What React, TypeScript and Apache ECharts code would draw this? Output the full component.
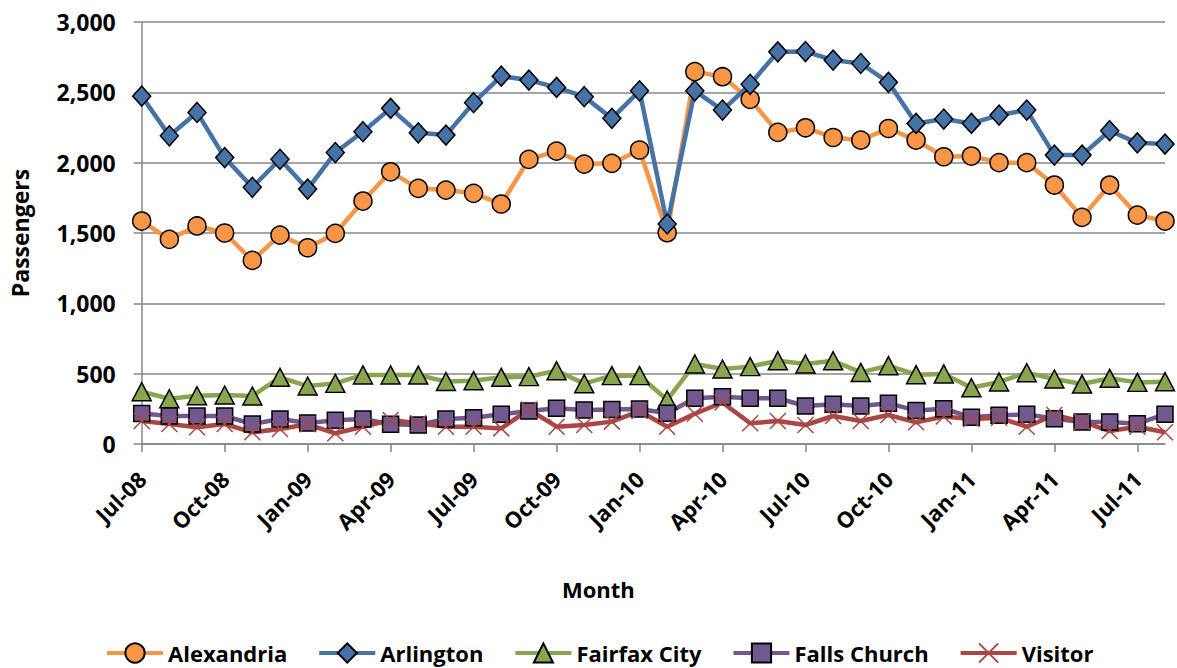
import React, { useEffect, useRef } from "react";
import * as echarts from "echarts";

const months = [
  "Jul-08", "Aug-08", "Sep-08", "Oct-08", "Nov-08", "Dec-08",
  "Jan-09", "Feb-09", "Mar-09", "Apr-09", "May-09", "Jun-09",
  "Jul-09", "Aug-09", "Sep-09", "Oct-09", "Nov-09", "Dec-09",
  "Jan-10", "Feb-10", "Mar-10", "Apr-10", "May-10", "Jun-10",
  "Jul-10", "Aug-10", "Sep-10", "Oct-10", "Nov-10", "Dec-10",
  "Jan-11", "Feb-11", "Mar-11", "Apr-11", "May-11", "Jun-11",
  "Jul-11", "Aug-11",
];

const alexandria = [1585, 1455, 1550, 1500, 1305, 1485, 1395, 1497, 1727, 1935, 1817, 1805, 1782, 1706, 2023, 2082, 1990, 1995, 2090, 1502, 2647, 2611, 2450, 2215, 2248, 2179, 2160, 2243, 2160, 2042, 2047, 2000, 2000, 1841, 1611, 1841, 1627, 1585];
const arlington = [2473, 2191, 2357, 2036, 1825, 2024, 1812, 2072, 2220, 2386, 2212, 2196, 2426, 2615, 2587, 2535, 2469, 2315, 2511, 1564, 2511, 2374, 2557, 2788, 2790, 2729, 2705, 2571, 2279, 2310, 2279, 2338, 2374, 2054, 2054, 2227, 2141, 2132];
const fairfaxCity = [372, 322, 343, 348, 341, 474, 412, 431, 491, 491, 490, 444, 450, 474, 479, 521, 429, 486, 486, 313, 569, 533, 550, 592, 569, 592, 509, 557, 493, 498, 400, 441, 507, 462, 426, 467, 438, 443];
const fallsChurch = [216, 199, 199, 199, 142, 178, 149, 168, 178, 140, 135, 178, 187, 211, 234, 254, 242, 246, 249, 218, 325, 336, 325, 325, 270, 282, 270, 289, 239, 251, 190, 204, 211, 180, 156, 156, 144, 211];
const visitor = [163, 142, 119, 142, 83, 107, 140, 76, 123, 171, 147, 123, 123, 111, 245, 123, 135, 159, 234, 123, 215, 295, 147, 163, 135, 199, 163, 206, 154, 195, 178, 187, 123, 206, 159, 92, 123, 83];

const FONT = "'Open Sans', 'DejaVu Sans', sans-serif";
const GRID_COLOR = "#878787";

export default function App() {
  const ref = useRef<HTMLDivElement>(null);

  useEffect(() => {
    if (!ref.current) return;
    const chart = echarts.init(ref.current, null, { renderer: "svg" });

    const mk = (
      name: string,
      data: number[],
      lineColor: string,
      fill: string,
      symbol: string,
      size: number | number[],
      border: string,
      borderWidth: number
    ) => ({
      name,
      type: "line",
      data,
      symbol,
      symbolSize: size,
      showAllSymbol: true,
      lineStyle: { color: lineColor, width: 4.5 },
      itemStyle: { color: fill, borderColor: border, borderWidth },
      emphasis: { disabled: true },
    });

    chart.setOption({
      animation: false,
      backgroundColor: "#ffffff",
      textStyle: { fontFamily: FONT },
      grid: { left: 141.7, right: 12, top: 22, bottom: 224, containLabel: false },
      legend: {
        left: 100,
        top: 636,
        itemWidth: 56,
        itemHeight: 24,
        itemGap: 30,
        lineStyle: { width: 4 },
        textStyle: {
          fontFamily: FONT,
          fontWeight: "bold",
          fontSize: 22,
          lineHeight: 24,
          color: "#000",
        },
        data: ["Alexandria", "Arlington", "Fairfax City", "Falls Church", "Visitor"],
      },
      graphic: [
        {
          type: "text",
          left: 562,
          top: 578,
          style: { text: "Month", fontFamily: FONT, fontWeight: "bold", fontSize: 22, fill: "#000" },
        },
      ],
      xAxis: {
        type: "category",
        data: months,
        boundaryGap: false,
        axisLine: { lineStyle: { color: GRID_COLOR, width: 1.5 } },
        axisTick: { interval: 2, length: 8, lineStyle: { color: GRID_COLOR, width: 1.5 } },
        axisLabel: {
          interval: 2,
          rotate: 45,
          margin: 31,
          fontFamily: FONT,
          fontWeight: "bold",
          fontSize: 22,
          color: "#000",
        },
        splitLine: { show: false },
      },
      yAxis: {
        type: "value",
        min: 0,
        max: 3000,
        interval: 500,
        name: "Passengers",
        nameLocation: "middle",
        nameGap: 110,
        nameTextStyle: { fontFamily: FONT, fontWeight: "bold", fontSize: 23, color: "#000" },
        axisLine: { show: true, lineStyle: { color: GRID_COLOR, width: 1.5 } },
        axisTick: { show: true, length: 8, lineStyle: { color: GRID_COLOR, width: 1.5 } },
        axisLabel: {
          margin: 26,
          fontFamily: FONT,
          fontWeight: "bold",
          fontSize: 23,
          color: "#000",
          formatter: (v: number) => v.toLocaleString("en-US"),
        },
        splitLine: { show: true, lineStyle: { color: GRID_COLOR, width: 1.5 } },
      },
      series: [
        mk("Alexandria", alexandria, "#F79646", "#F79646", "circle", 18, "#000", 1.5),
        mk("Arlington", arlington, "#4572A7", "#4572A7", "diamond", [18, 20], "#000", 1.5),
        mk("Fairfax City", fairfaxCity, "#89A54E", "#89A54E", "triangle", [19, 18], "#000", 1.5),
        mk("Falls Church", fallsChurch, "#71588F", "#71588F", "rect", 16, "#000", 1.5),
        mk("Visitor", visitor, "#AA4643", "#AA4643", "path://M0,0L10,10M0,10L10,0", 16, "#AA4643", 1.5),
      ],
    });

    return () => chart.dispose();
  }, []);

  return (
    <div
      ref={ref}
      style={{ position: "fixed", left: 0, top: 0, width: 1177, height: 668, background: "#fff" }}
    />
  );
}
